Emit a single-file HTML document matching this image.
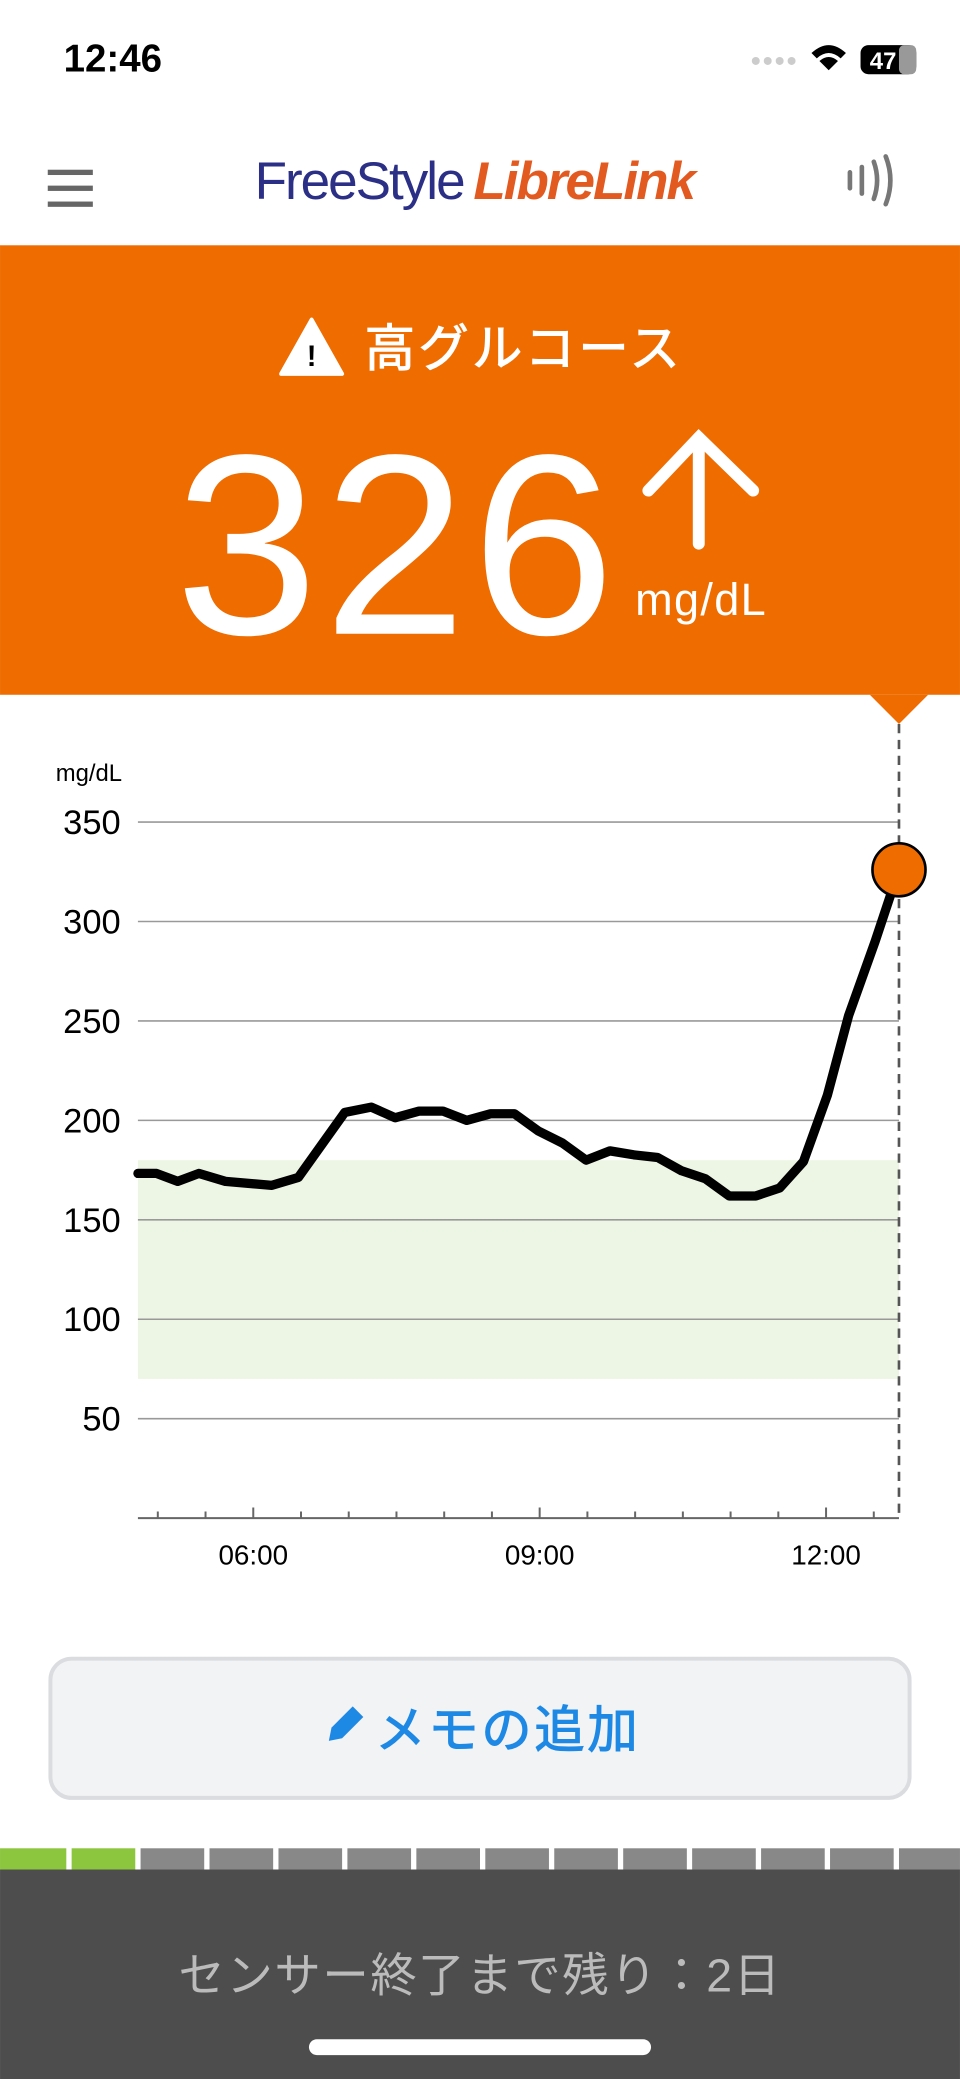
<!DOCTYPE html>
<html><head><meta charset="utf-8"><style>html,body{margin:0;padding:0;background:#fff}svg{display:block}</style></head>
<body>
<svg width="960" height="2079" viewBox="0 0 724 1568" xmlns="http://www.w3.org/2000/svg" font-family="Liberation Sans, Noto Sans CJK JP, sans-serif">
<rect width="724" height="1568" fill="#fff"/>
<!-- status bar -->
<text x="48" y="54" font-size="29" font-weight="bold" fill="#000">12:46</text>
<g fill="#ccc"><circle cx="570" cy="46" r="3"/><circle cx="579" cy="46" r="3"/><circle cx="588" cy="46" r="3"/><circle cx="597" cy="46" r="3"/></g>
<path d="M612 40 Q625 28 638 40 L634 44 Q625 36 616 44 Z M618 46 Q625 40 632 46 L625 53 Z" fill="#000"/>
<rect x="649" y="34" width="42" height="22" rx="6" fill="#000"/><rect x="678" y="34" width="13" height="22" rx="4" fill="#999"/>
<text x="656" y="52" font-size="18" font-weight="bold" fill="#fff">47</text>
<!-- header -->
<g fill="#666"><rect x="36" y="128" width="34" height="4"/><rect x="36" y="140" width="34" height="4"/><rect x="36" y="152" width="34" height="4"/></g>
<text x="192" y="150" font-size="40" fill="#2B2F86" letter-spacing="-1.5">FreeStyle</text>
<text x="357" y="150" font-size="40" font-style="italic" font-weight="bold" fill="#E35A20" letter-spacing="-1.5">LibreLink</text>
<g fill="none" stroke="#777" stroke-width="3.5" stroke-linecap="round"><path d="M641 130v12"/><path d="M650 126v20"/><path d="M659 122q5 14 0 28"/><path d="M668 118q7 18 0 36"/></g>
<!-- orange band -->
<rect x="0" y="185" width="724" height="339" fill="#EE6C00"/>
<path d="M656 524 L700 524 L678 546 Z" fill="#EE6C00"/>
<path d="M235 241 L258 282 L212 282 Z" fill="#fff" stroke="#fff" stroke-width="3" stroke-linejoin="round"/>
<text x="235" y="276" font-size="22" font-weight="bold" fill="#000" text-anchor="middle">!</text>
<text x="275" y="276" font-size="38" fill="#fff" stroke="#fff" stroke-width="0.8" letter-spacing="2.5">高グルコース</text>
<text x="132" y="478" font-size="194" fill="#fff" letter-spacing="4">326</text>
<g stroke="#fff" stroke-width="9" stroke-linecap="round" fill="none"><path d="M527 410V330"/><path d="M489 370L527 330L568 370"/></g>
<text x="479" y="464" font-size="34" fill="#fff" letter-spacing="1">mg/dL</text>
<!-- chart -->
<text x="42" y="589" font-size="18" fill="#000">mg/dL</text>
<rect x="104" y="875" width="574" height="165" fill="#EDF6E4"/>
<g stroke="#999" stroke-width="1.2">
<line x1="104" y1="620" x2="678" y2="620"/><line x1="104" y1="695" x2="678" y2="695"/><line x1="104" y1="770" x2="678" y2="770"/><line x1="104" y1="845" x2="678" y2="845"/><line x1="104" y1="920" x2="678" y2="920"/><line x1="104" y1="995" x2="678" y2="995"/><line x1="104" y1="1070" x2="678" y2="1070"/>
</g>
<g font-size="26" fill="#000" text-anchor="end">
<text x="91" y="629">350</text><text x="91" y="704">300</text><text x="91" y="779">250</text><text x="91" y="854">200</text><text x="91" y="929">150</text><text x="91" y="1004">100</text><text x="91" y="1079">50</text>
</g>
<line x1="104" y1="1145" x2="678" y2="1145" stroke="#666" stroke-width="1.5"/>
<g stroke="#666" stroke-width="1.5">
<path d="M119 1140v5M155 1140v5M227 1140v5M263 1140v5M299 1140v5M335 1140v5M371 1140v5M443 1140v5M479 1140v5M515 1140v5M551 1140v5M587 1140v5M659 1140v5"/>
<path d="M191 1137v8M407 1137v8M623 1137v8"/>
</g>
<g font-size="21" fill="#000" text-anchor="middle"><text x="191" y="1180">06:00</text><text x="407" y="1180">09:00</text><text x="623" y="1180">12:00</text></g>
<line x1="678" y1="546" x2="678" y2="1145" stroke="#555" stroke-width="2" stroke-dasharray="7,5"/>
<polyline fill="none" stroke="#000" stroke-width="7" stroke-linejoin="round" stroke-linecap="round" points="104,885 118,885 134,891 150,885 170,891 205,894 225,888 260,839 280,835 298,843 316,838 334,838 352,845 370,840 388,840 406,853 424,862 442,875 460,868 478,871 496,873 514,883 532,889 550,902 570,902 588,896 606,876 624,826 640,766 660,710 678,656"/>
<circle cx="678" cy="656" r="20" fill="#EE6C00" stroke="#000" stroke-width="2"/>
<!-- button -->
<rect x="38" y="1251" width="648" height="105" rx="16" fill="#F2F3F5" stroke="#DADCDF" stroke-width="3"/>
<path d="M248 1313 L250 1303 L266 1287 L274 1295 L258 1311 Z" fill="#1E88E5"/>
<text x="283" y="1318" font-size="38" fill="#1E88E5" stroke="#1E88E5" stroke-width="0.8" letter-spacing="2">メモの追加</text>
<!-- progress -->
<rect x="0" y="1394" width="724" height="16" fill="#fff"/>
<g fill="#888">
<rect x="106" y="1394" width="48" height="16"/><rect x="158" y="1394" width="48" height="16"/><rect x="210" y="1394" width="48" height="16"/><rect x="262" y="1394" width="48" height="16"/><rect x="314" y="1394" width="48" height="16"/><rect x="366" y="1394" width="48" height="16"/><rect x="418" y="1394" width="48" height="16"/><rect x="470" y="1394" width="48" height="16"/><rect x="522" y="1394" width="48" height="16"/><rect x="574" y="1394" width="48" height="16"/><rect x="626" y="1394" width="48" height="16"/><rect x="678" y="1394" width="46" height="16"/>
</g>
<rect x="0" y="1394" width="50" height="16" fill="#8CC63F"/><rect x="54" y="1394" width="48" height="16" fill="#8CC63F"/>
<rect x="0" y="1410" width="724" height="158" fill="#4D4D4D"/>
<text x="362" y="1502" font-size="35" fill="#BBBBBB" text-anchor="middle" letter-spacing="1.2">センサー終了まで残り：2日</text>
<rect x="233" y="1538" width="258" height="12" rx="6" fill="#fff"/>
</svg>
</body></html>
